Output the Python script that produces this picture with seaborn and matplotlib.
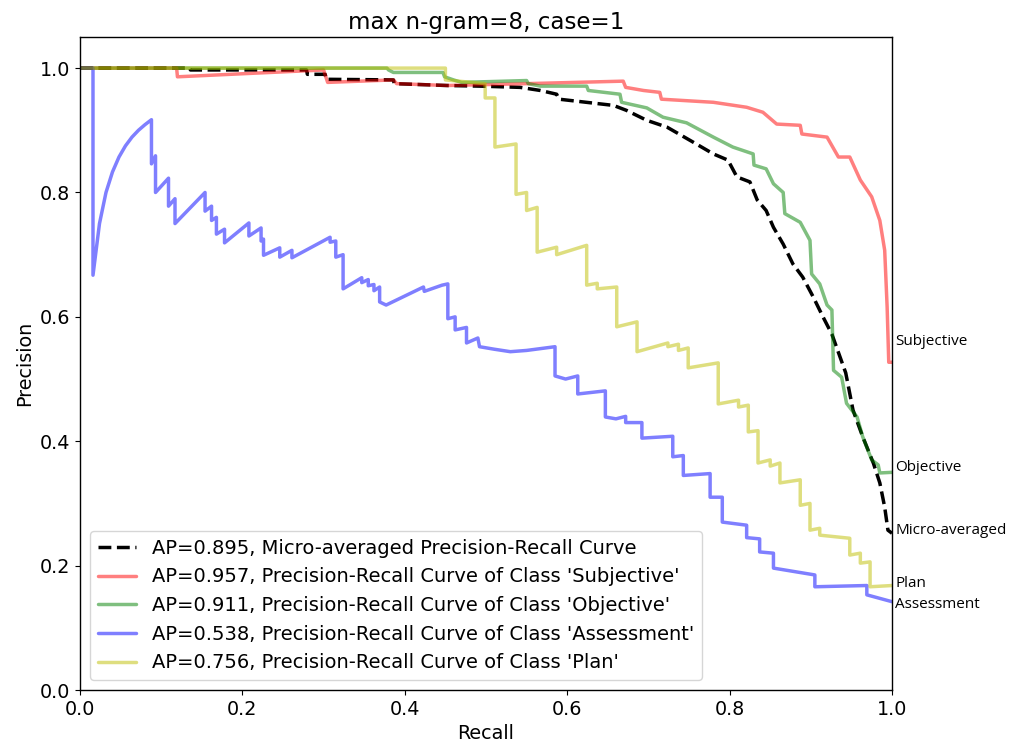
import matplotlib
matplotlib.use("Agg")
import matplotlib.pyplot as plt
import seaborn as sns
import pandas as pd

# ---- data ----
micro_recall = [0, 0.135, 0.136, 0.279, 0.28, 0.302, 0.303, 0.386, 0.387, 0.452, 0.493,
                0.542, 0.567, 0.587, 0.59, 0.657, 0.673, 0.698, 0.723, 0.755, 0.780, 0.798,
                0.809, 0.825, 0.834, 0.845, 0.854, 0.866, 0.878, 0.890, 0.903, 0.915, 0.926,
                0.943, 0.952, 0.964, 0.977, 0.985, 0.991, 0.995, 1.0]
micro_precision = [1.0, 1.0, 0.997, 0.997, 0.990, 0.99, 0.982, 0.981, 0.975, 0.972, 0.971,
                   0.969, 0.964, 0.958, 0.950, 0.940, 0.932, 0.916, 0.905, 0.881, 0.862, 0.852,
                   0.825, 0.817, 0.788, 0.771, 0.744, 0.717, 0.685, 0.664, 0.632, 0.600, 0.572,
                   0.51, 0.45, 0.407, 0.365, 0.333, 0.294, 0.257, 0.252]

subj_recall = [0, 0.119, 0.12, 0.30, 0.305, 0.386, 0.39, 0.452, 0.55, 0.669, 0.672, 0.694,
               0.714, 0.716, 0.78, 0.821, 0.841, 0.858, 0.887, 0.889, 0.920, 0.934, 0.948,
               0.961, 0.975, 0.985, 0.991, 0.994, 0.996, 1.0]
subj_precision = [1.0, 1.0, 0.986, 0.997, 0.977, 0.981, 0.975, 0.972, 0.975, 0.979, 0.969,
                  0.964, 0.961, 0.95, 0.945, 0.937, 0.929, 0.91, 0.908, 0.894, 0.889, 0.857,
                  0.857, 0.82, 0.793, 0.755, 0.707, 0.616, 0.527, 0.527]

obj_recall = [0, 0.378, 0.38, 0.386, 0.447, 0.449, 0.46, 0.47, 0.55, 0.552, 0.567, 0.624,
              0.626, 0.665, 0.667, 0.698, 0.718, 0.747, 0.780, 0.804, 0.829, 0.830, 0.845,
              0.854, 0.866, 0.868, 0.887, 0.899, 0.901, 0.911, 0.920, 0.926, 0.928, 0.938,
              0.944, 0.957, 0.964, 0.975, 0.983, 0.985, 1.0]
obj_precision = [1.0, 1.0, 0.997, 0.993, 0.993, 0.986, 0.981, 0.977, 0.98, 0.975, 0.971,
                 0.971, 0.964, 0.958, 0.945, 0.936, 0.921, 0.912, 0.889, 0.873, 0.862, 0.844,
                 0.838, 0.814, 0.80, 0.766, 0.752, 0.723, 0.669, 0.653, 0.619, 0.611, 0.514,
                 0.503, 0.461, 0.439, 0.407, 0.37, 0.362, 0.349, 0.35]

assess_recall = [0, 0.016, 0.016, 0.024, 0.032, 0.040, 0.048, 0.056, 0.064, 0.072, 0.080,
                 0.088, 0.088, 0.093, 0.093, 0.109, 0.109, 0.117, 0.117, 0.154, 0.154, 0.162,
                 0.162, 0.168, 0.168, 0.178, 0.178, 0.208, 0.208, 0.223, 0.223, 0.226, 0.226,
                 0.246, 0.246, 0.261, 0.261, 0.308, 0.308, 0.315, 0.315, 0.324, 0.324, 0.347,
                 0.347, 0.355, 0.355, 0.362, 0.362, 0.369, 0.369, 0.377, 0.423, 0.424, 0.446,
                 0.453, 0.453, 0.462, 0.462, 0.476, 0.476, 0.49, 0.492, 0.51, 0.53, 0.55,
                 0.585, 0.585, 0.598, 0.613, 0.613, 0.647, 0.647, 0.66, 0.672, 0.672, 0.692,
                 0.692, 0.73, 0.73, 0.743, 0.743, 0.776, 0.776, 0.791, 0.791, 0.821, 0.821,
                 0.837, 0.837, 0.854, 0.854, 0.905, 0.905, 0.969, 0.969, 1.0]
assess_precision = [1.0, 1.0, 0.667, 0.75, 0.80, 0.833, 0.857, 0.875, 0.889, 0.90, 0.909,
                    0.917, 0.846, 0.859, 0.80, 0.823, 0.778, 0.790, 0.75, 0.80, 0.770, 0.778,
                    0.755, 0.760, 0.733, 0.741, 0.719, 0.751, 0.730, 0.743, 0.722, 0.725, 0.699,
                    0.711, 0.696, 0.707, 0.695, 0.728, 0.72, 0.722, 0.696, 0.70, 0.645, 0.663,
                    0.655, 0.66, 0.65, 0.652, 0.642, 0.648, 0.624, 0.619, 0.648, 0.641, 0.651,
                    0.653, 0.597, 0.600, 0.579, 0.583, 0.558, 0.566, 0.552, 0.548, 0.544, 0.546,
                    0.552, 0.505, 0.50, 0.505, 0.476, 0.481, 0.439, 0.436, 0.44, 0.43, 0.43,
                    0.405, 0.408, 0.375, 0.377, 0.345, 0.348, 0.31, 0.31, 0.27, 0.265, 0.245,
                    0.243, 0.222, 0.22, 0.196, 0.185, 0.166, 0.168, 0.153, 0.142]

plan_recall = [0, 0.45, 0.45, 0.499, 0.499, 0.511, 0.511, 0.537, 0.537, 0.550, 0.550, 0.563,
               0.563, 0.587, 0.587, 0.624, 0.624, 0.637, 0.637, 0.661, 0.661, 0.686, 0.686,
               0.724, 0.724, 0.737, 0.737, 0.749, 0.749, 0.786, 0.786, 0.811, 0.811, 0.823,
               0.823, 0.835, 0.835, 0.850, 0.850, 0.862, 0.862, 0.887, 0.887, 0.899, 0.899,
               0.911, 0.911, 0.948, 0.948, 0.961, 0.961, 0.973, 0.973, 1.0]
plan_precision = [1.0, 1.0, 0.981, 0.975, 0.952, 0.952, 0.873, 0.878, 0.797, 0.80, 0.771, 0.776,
                  0.704, 0.712, 0.70, 0.715, 0.651, 0.654, 0.645, 0.648, 0.584, 0.592, 0.544,
                  0.558, 0.552, 0.556, 0.546, 0.55, 0.518, 0.526, 0.46, 0.466, 0.455, 0.458,
                  0.415, 0.417, 0.365, 0.37, 0.36, 0.365, 0.333, 0.338, 0.297, 0.30, 0.257,
                  0.26, 0.249, 0.244, 0.217, 0.22, 0.204, 0.206, 0.166, 0.168]

labels = ["AP=0.895, Micro-averaged Precision-Recall Curve",
          "AP=0.957, Precision-Recall Curve of Class 'Subjective'",
          "AP=0.911, Precision-Recall Curve of Class 'Objective'",
          "AP=0.538, Precision-Recall Curve of Class 'Assessment'",
          "AP=0.756, Precision-Recall Curve of Class 'Plan'"]
end_labels = ["Micro-averaged", "Subjective", "Objective", "Assessment", "Plan"]
end_label_y = [0.257, 0.560, 0.357, 0.138, 0.172]

# ---- styling ----
sns.set_style("ticks")
plt.rcParams.update({
    "font.family": ["DejaVu Sans"],
    "font.size": 13.8,
    "legend.fontsize": 14.0,
    "axes.edgecolor": "black",
    "axes.linewidth": 1.0,
    "xtick.color": "black",
    "ytick.color": "black",
    "text.color": "black",
    "axes.labelcolor": "black",
    "legend.frameon": True,
    "legend.framealpha": 0.8,
    "legend.edgecolor": "0.8",
    "legend.fancybox": True,
})

fig = plt.figure(figsize=(10.1, 7.49), dpi=100)
ax = fig.add_axes([80 / 1010, 1 - 690 / 749, 812 / 1010, 653 / 749])

series = [
    (micro_recall, micro_precision, "black", 1.0, "--"),
    (subj_recall, subj_precision, "r", 0.5, "-"),
    (obj_recall, obj_precision, "g", 0.5, "-"),
    (assess_recall, assess_precision, "b", 0.5, "-"),
    (plan_recall, plan_precision, "y", 0.5, "-"),
]
for (rx, py, col, al, ls), lab in zip(series, labels):
    df = pd.DataFrame({"Recall": rx, "Precision": py})
    sns.lineplot(data=df, x="Recall", y="Precision", sort=False, estimator=None,
                 color=col, alpha=al, linestyle=ls, linewidth=2.5, label=lab, ax=ax)

ax.set_xlim(0, 1.0)
ax.set_ylim(0, 1.05)
ax.set_xticks([0, 0.2, 0.4, 0.6, 0.8, 1.0])
ax.set_yticks([0, 0.2, 0.4, 0.6, 0.8, 1.0])
ax.set_xlabel("Recall")
ax.set_ylabel("Precision")
ax.set_title("max n-gram=8, case=1")
ax.legend(loc="lower left")

for txt, yv in zip(end_labels, end_label_y):
    ax.text(1.004, yv, txt, transform=ax.transData, va="center", ha="left",
            fontsize=11, family=["Open Sans", "DejaVu Sans"], clip_on=False)

fig.savefig("out.png", dpi=100)
